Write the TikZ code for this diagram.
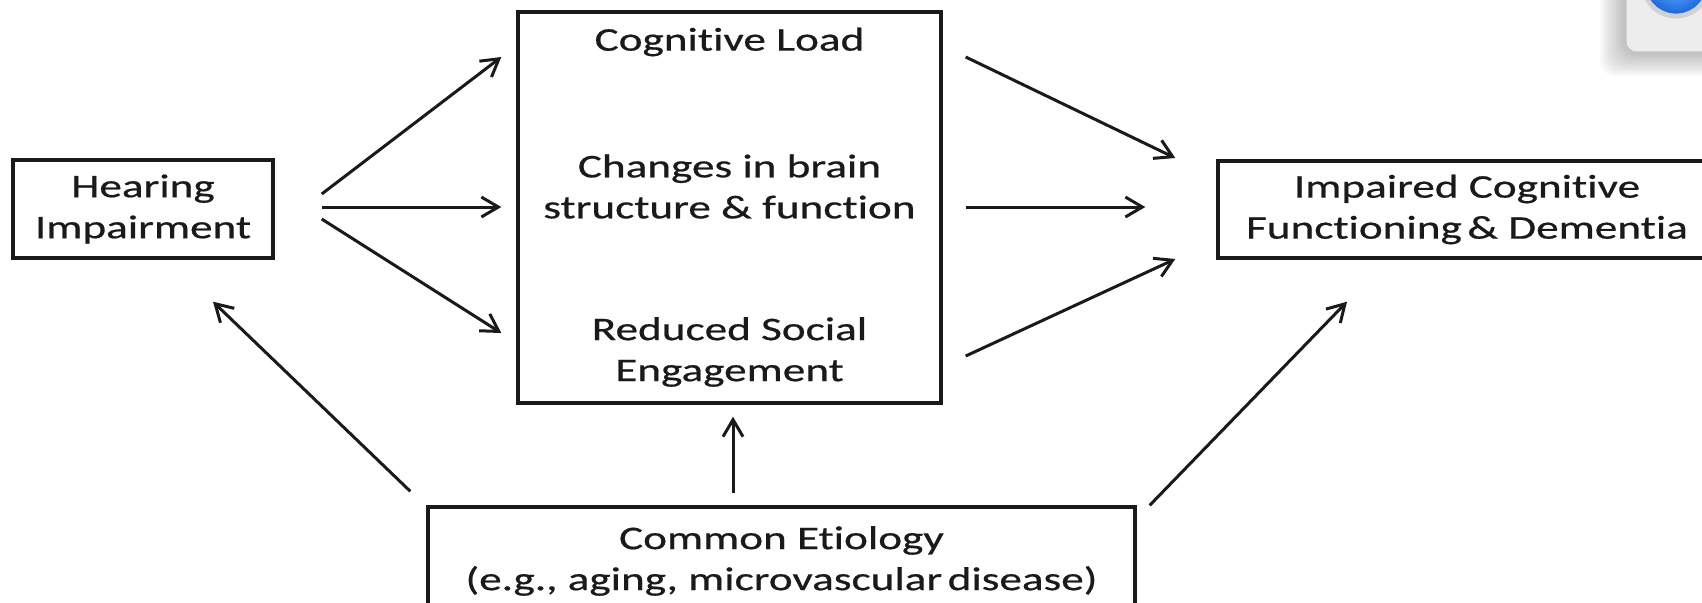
\documentclass[tikz,border=0pt]{standalone}
\usepackage{fontspec}
\setmainfont{Carlito}[FakeStretch=1.37,FakeBold=0.6,Ligatures=CommonOff]
\usetikzlibrary{arrows.meta}
\definecolor{ink}{HTML}{1A1A1A}
\definecolor{panel}{HTML}{EDEDED}
\definecolor{panelrim}{HTML}{C4C4C4}
\definecolor{btnin}{HTML}{6AB4FF}
\definecolor{btnout}{HTML}{1763DA}
\begin{document}
\begin{tikzpicture}[x=0.5pt,y=-0.5pt,
  box/.style={draw=ink,line width=1.7pt,inner sep=0pt,align=center,text=ink},
  lbl/.style={inner sep=0pt,align=center,text=ink},
  arr/.style={draw=ink,line width=1.5pt,-{Straight Barb[length=8.5pt,width=10pt,line width=1.5pt]}},
  every node/.style={font=\fontsize{16.5pt}{20.5pt}\selectfont}]
\useasboundingbox (0,0) rectangle (1702,602);
\clip (0,0) rectangle (1702,602);

% window corner in the top right
\foreach \i in {1,...,10}
  \fill[black,opacity=0.028,rounded corners=8pt]
    (1626-2.6*\i,-20) rectangle (1760,52+2.4*\i);
\draw[panelrim,fill=panel,line width=0.6pt,rounded corners=5pt]
  (1626,-20) rectangle (1760,52);
\draw[white!82!black,line width=2.4pt,inner color=btnin,outer color=btnout]
  (1676,-17) circle[radius=33];

% boxes
\node[box,minimum width=130pt,minimum height=49pt] (hear) at (143,209)
  {Hearing\\Impairment};
\node[box,minimum width=211.5pt,minimum height=195.5pt] (mid) at (729.5,207.5) {};
\node[lbl] (load) at (729.5,42) {Cognitive Load};
\node[lbl] (brain) at (729.5,186.5) {Changes in brain\\structure \& function};
\node[lbl] (social) at (729.5,352) {Reduced Social\\Engagement};
\node[box,minimum width=249pt,minimum height=48.5pt] (outc) at (1467,209.5)
  {Impaired Cognitive\\Functioning\,\& Dementia};
\node[box,minimum width=353.5pt,minimum height=54pt] (etio) at (781.5,561)
  {Common Etiology\\(e.g., aging, microvascular\,disease)};

% connectors
\draw[arr] ([shift={(47,-15)}]hear.east) -- ([shift={(-15,-150.5)}]mid.west);
\draw[arr] ([shift={(47,-2)}]hear.east) -- ([shift={(-15,-0.5)}]mid.west);
\draw[arr] ([shift={(47,10)}]hear.east) -- ([shift={(-15,125.5)}]mid.west);
\draw[arr] ([shift={(23,-150.5)}]mid.east) -- ([shift={(-41,-51.5)}]outc.west);
\draw[arr] ([shift={(23,-0.5)}]mid.east) -- ([shift={(-71,-2.5)}]outc.west);
\draw[arr] ([shift={(23,148.5)}]mid.east) -- ([shift={(-41,49.5)}]outc.west);
\draw[arr] ([shift={(-16,-14)}]etio.north west) -- ([shift={(70,42)}]hear.south);
\draw[arr] ([shift={(-48.5,-12)}]etio.north) -- ([shift={(3.5,12)}]mid.south);
\draw[arr] ([shift={(13,0)}]etio.north east) -- ([shift={(-120,42)}]outc.south);
\end{tikzpicture}
\end{document}
